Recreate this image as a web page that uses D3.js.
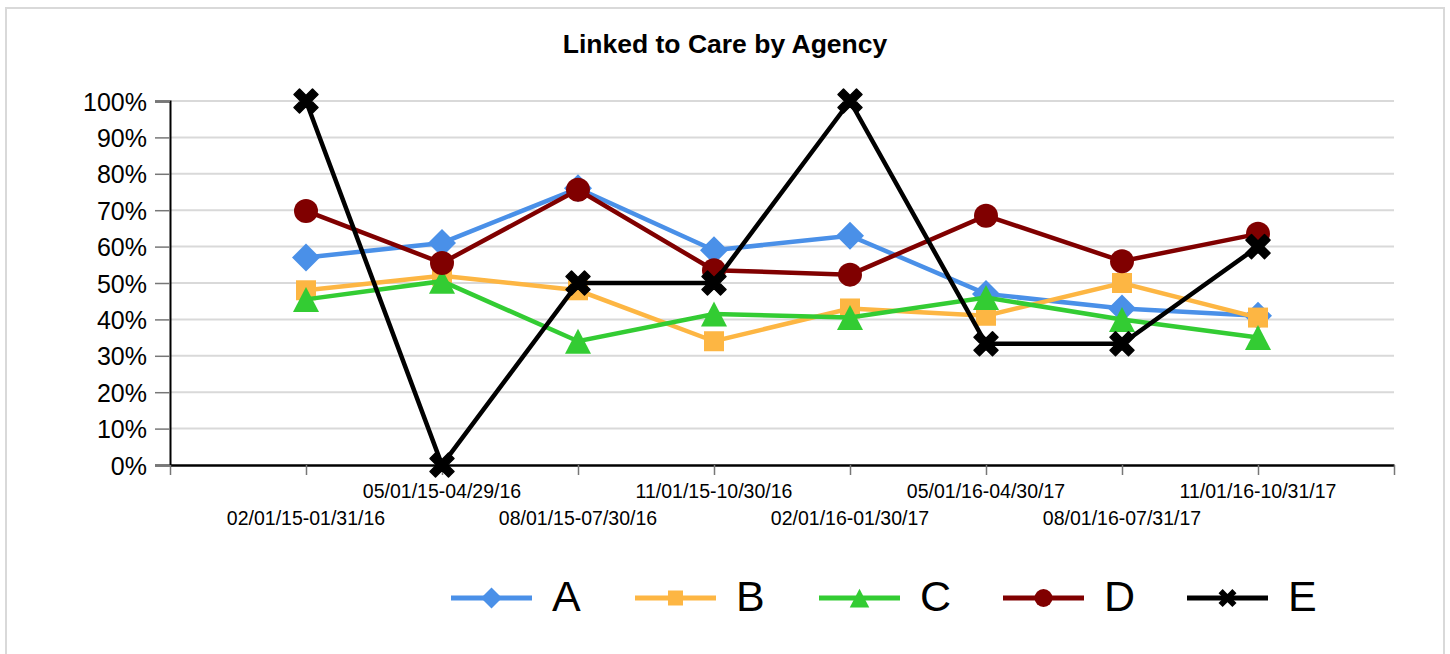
<!DOCTYPE html>
<html><head><meta charset="utf-8">
<script src="https://cdn.jsdelivr.net/npm/d3@7"></script>
<style>body{margin:0;background:#fff;font-family:"Liberation Sans",Arial,sans-serif}</style>
</head><body><svg id="c" width="1450" height="654"></svg>
<script>
const categories = ["02/01/15-01/31/16","05/01/15-04/29/16","08/01/15-07/30/16","11/01/15-10/30/16","02/01/16-01/30/17","05/01/16-04/30/17","08/01/16-07/31/17","11/01/16-10/31/17"];
const seriesNames = ["A","B","C","D","E"];
const valuesA = [57, 61, 76, 59, 63, 47, 43, 41];
const valuesB = [48, 52, 48, 34, 43, 41, 50, 40.5];
const valuesC = [45.5, 50.5, 34, 41.5, 40.5, 46, 40, 35];
const valuesD = [69.8, 55.5, 75.6, 53.5, 52.3, 68.5, 56, 63.5];
const valuesE = [100, 0, 50, 50, 100, 33.3, 33.3, 60];
const yTicks = [0,10,20,30,40,50,60,70,80,90,100];
const colors = ["#4a90e8","#fdb643","#33cc33","#800000","#000000"];
const shapes = ["diamond","square","triangle","circle","cross"];
const allValues = [valuesA, valuesB, valuesC, valuesD, valuesE];

const svg = d3.select("#c");
svg.append("rect").attr("x",6).attr("y",8).attr("width",1438).attr("height",660)
  .attr("fill","#fff").attr("stroke","#d9d9d9").attr("stroke-width",2);

const L=170, R=1394, T=101, B=465;
const x = d3.scaleLinear().domain([0, categories.length+1]).range([L,R]);
const y = d3.scaleLinear().domain([0,100]).range([B,T]);

svg.append("text").attr("x",725).attr("y",53).attr("text-anchor","middle")
  .attr("font-size",26.5).attr("font-weight","bold").text("Linked to Care by Agency");

svg.append("g").selectAll("line").data(yTicks.filter(d=>d>0)).join("line")
  .attr("x1",L).attr("x2",R).attr("y1",d=>y(d)).attr("y2",d=>y(d))
  .attr("stroke","#d9d9d9").attr("stroke-width",2);

const ya = svg.append("g").attr("transform",`translate(${L},0)`)
  .call(d3.axisLeft(y).tickValues(yTicks).tickFormat(d=>d+"%").tickSize(15).tickPadding(8));
ya.select(".domain").attr("stroke","#000").attr("stroke-width",2);
ya.selectAll(".tick line").attr("stroke","#777").attr("stroke-width",1.5);
ya.selectAll("text").attr("font-size",25).attr("font-family","Liberation Sans, Arial").attr("fill","#000").attr("dy","0.36em");

const xa = svg.append("g").attr("transform",`translate(0,${B})`)
  .call(d3.axisBottom(x).tickValues(d3.range(0,categories.length+2)).tickFormat("").tickSize(10).tickSizeOuter(0));
xa.select(".domain").attr("stroke","#000").attr("stroke-width",2.5);
xa.selectAll(".tick line").attr("stroke","#777").attr("stroke-width",1.5);
svg.append("g").selectAll("text").data(categories).join("text")
  .attr("x",(d,i)=>x(i+1)).attr("y",(d,i)=> i%2===0 ? 525 : 498)
  .attr("text-anchor","middle").attr("font-size",19.5).text(d=>d);

function sym(shape, k){
  const p = d3.path();
  if(shape==="diamond"){ const h=14*k; p.moveTo(0,-h);p.lineTo(h,0);p.lineTo(0,h);p.lineTo(-h,0);p.closePath(); }
  else if(shape==="square"){ const h=10*k; p.rect(-h,-h,2*h,2*h); }
  else if(shape==="triangle"){ const w=13*k, h=12.5*k; p.moveTo(0,-h);p.lineTo(w,h);p.lineTo(-w,h);p.closePath(); }
  else if(shape==="circle"){ const r=12*k; p.moveTo(r,0); p.arc(0,0,r,0,2*Math.PI); }
  else {
    const a=12*k, t=5.5*k;
    const pts=[[-a,-a+t],[-a+t,-a],[0,-t],[a-t,-a],[a,-a+t],[t,0],[a,a-t],[a-t,a],[0,t],[-a+t,a],[-a,a-t],[-t,0]];
    p.moveTo(pts[0][0],pts[0][1]); pts.slice(1).forEach(q=>p.lineTo(q[0],q[1])); p.closePath();
  }
  return p.toString();
}
const line = d3.line().x((d,i)=>x(i+1)).y(d=>y(d));

allValues.forEach((vals,s)=>{
  const g = svg.append("g");
  g.append("path").attr("d",line(vals)).attr("fill","none").attr("stroke",colors[s]).attr("stroke-width",4.5);
  g.selectAll("path.m").data(vals).join("path").attr("class","m")
    .attr("d",sym(shapes[s],1))
    .attr("transform",(d,i)=>`translate(${x(i+1)},${y(d)})`)
    .attr("fill",colors[s]).attr("stroke",colors[s]).attr("stroke-width",shapes[s]==="cross"?1.5:0).attr("stroke-linejoin","round");
});

const lg = svg.append("g");
seriesNames.forEach((n,i)=>{
  const x0 = 451 + i*184;
  const g = lg.append("g");
  g.append("line").attr("x1",x0).attr("x2",x0+81).attr("y1",598).attr("y2",598)
    .attr("stroke",colors[i]).attr("stroke-width",5);
  g.append("path").attr("d",sym(shapes[i],0.75))
    .attr("transform",`translate(${x0+40.5},598)`).attr("fill",colors[i]);
  g.append("text").attr("x",x0+101).attr("y",611).attr("font-size",43).text(n);
});
</script></body></html>
